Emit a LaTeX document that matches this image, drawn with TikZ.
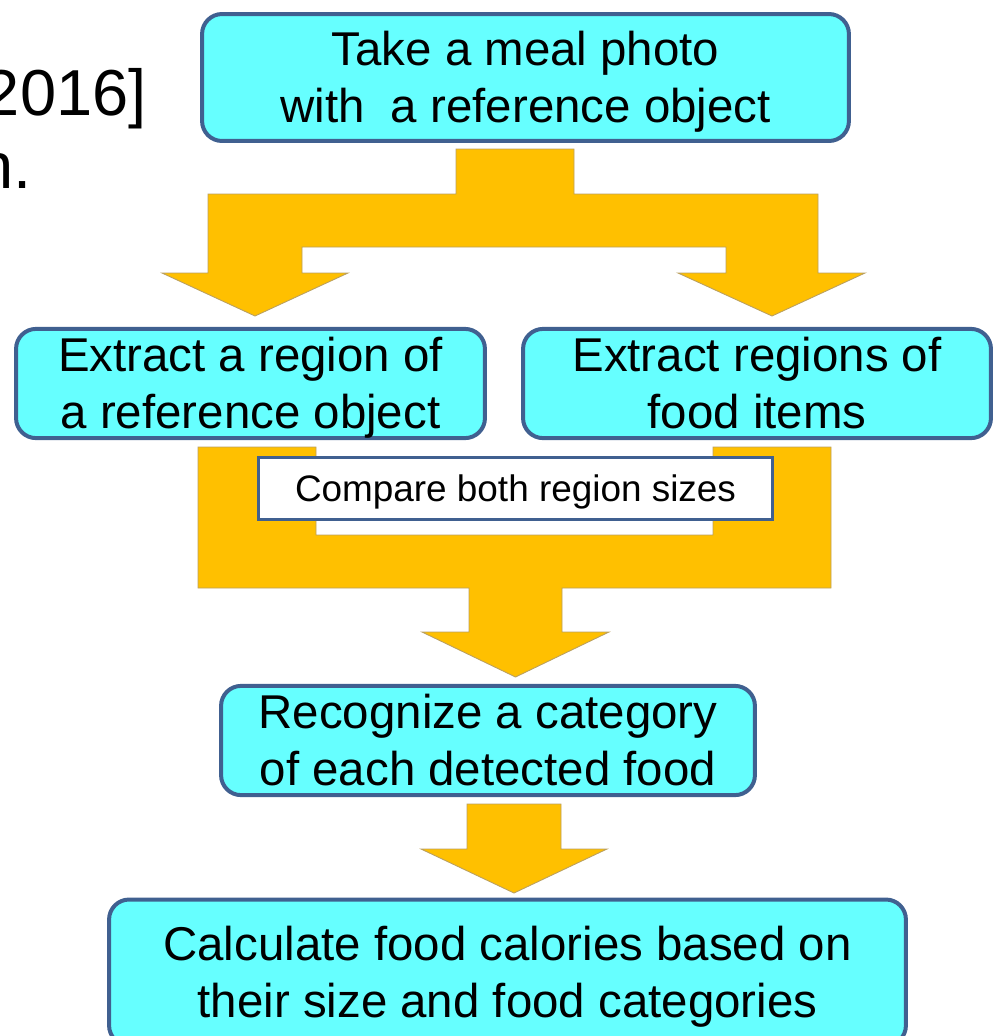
\documentclass[tikz,border=0pt]{standalone}
\usepackage{fontspec}
\setmainfont{Liberation Sans}
\usepackage{tikz}

\definecolor{boxblue}{RGB}{64,96,144}
\definecolor{boxfill}{RGB}{102,255,255}
\definecolor{arrowgold}{RGB}{255,192,0}
\definecolor{arrowedge}{RGB}{186,160,96}
\newcommand{\linestrut}{\rule[-0.212em]{0pt}{1.117em}}

\begin{document}
\begin{tikzpicture}[x=0.02cm, y=-0.02cm,
    box/.style={draw=boxblue, fill=boxfill, line width=0.08cm, rounded corners=0.4cm, align=center, inner sep=0, font=\fontsize{27}{32}\selectfont},
    blockarrow/.style={fill=arrowgold, draw=arrowedge, line width=0.5pt},
    slidetext/.style={anchor=base east, inner sep=0, font=\fontsize{37}{44}\selectfont}]
        \useasboundingbox (0,0) rectangle (994,1036);

        \node[slidetext] (year) at (147,115) {2016]};
        \node[slidetext] (cut) at (32,188) {n.};

        \node[box, minimum width=12.94cm, minimum height=2.54cm] (photo) at (525.5,77.5) {\linestrut Take a meal photo\\\linestrut with~ a reference object};
        \node[box, minimum width=9.38cm, minimum height=2.18cm] (refobj) at (250.5,383.5) {\linestrut Extract a region of\\\linestrut a reference object};
        \node[box, minimum width=9.36cm, minimum height=2.18cm] (items) at (757,383.5) {\linestrut Extract regions of\\\linestrut food items};
        \node[box, minimum width=10.68cm, minimum height=2.18cm] (recog) at (488,740.5) {\linestrut Recognize a category\\\linestrut of each detected food};
        \node[box, minimum width=15.94cm, minimum height=2.92cm] (calories) at (507.5,972.5) {\linestrut Calculate food calories based on\\\linestrut their size and food categories};

        % split arrow
        \draw[blockarrow] (456,149) -- (574,149) -- (574,194) -- (818,194) -- (818,273) -- (865,273) -- (772,316) -- (678,273) -- (726,273) -- (726,247)
            -- (302,247) -- (302,273) -- (348,273) -- (255,316) -- (162,273) -- (208,273) -- (208,194) -- (456,194) -- cycle;
        % merge arrow
        \draw[blockarrow] (198,447) -- (316,447) -- (316,535) -- (713,535) -- (713,447) -- (831,447) -- (831,588) -- (562,588) -- (562,632)
            -- (609,632) -- (515.5,677) -- (422,632) -- (469,632) -- (469,588) -- (198,588) -- cycle;
        \draw[blockarrow] (467,804) -- (561,804) -- (561,849) -- (607,849) -- (514,893) -- (421,849) -- (467,849) -- cycle;

        \node[draw=boxblue, fill=white, line width=0.06cm, minimum width=10.28cm, minimum height=1.24cm, inner sep=0, font=\fontsize{21}{25}\selectfont] (compare) at (515.5,488.5) {\linestrut Compare both region sizes};
    \end{tikzpicture}
\end{document}
